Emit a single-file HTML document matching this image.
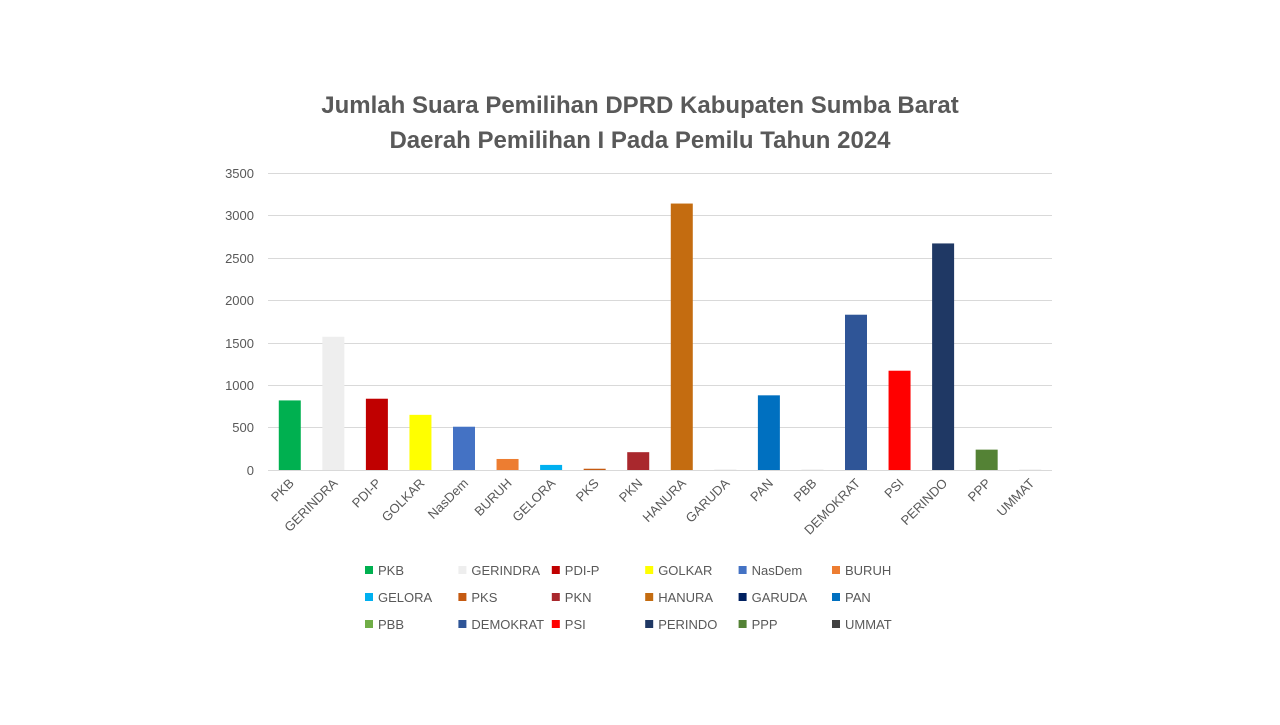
<!DOCTYPE html><html><head><meta charset="utf-8"><style>body{margin:0;background:#fff}</style></head><body>
<svg width="1280" height="720" xmlns="http://www.w3.org/2000/svg" font-family="Liberation Sans, sans-serif">
<rect width="1280" height="720" fill="#fff"/>
<text x="640" y="113" text-anchor="middle" font-size="24" font-weight="bold" fill="#595959">Jumlah Suara Pemilihan DPRD Kabupaten Sumba Barat</text>
<text x="640" y="148" text-anchor="middle" font-size="24" font-weight="bold" fill="#595959">Daerah Pemilihan I Pada Pemilu Tahun 2024</text>
<g stroke="#d9d9d9" stroke-width="1">
<line x1="268" x2="1052" y1="173.5" y2="173.5"/><line x1="268" x2="1052" y1="215.5" y2="215.5"/><line x1="268" x2="1052" y1="258.5" y2="258.5"/><line x1="268" x2="1052" y1="300.5" y2="300.5"/><line x1="268" x2="1052" y1="343.5" y2="343.5"/><line x1="268" x2="1052" y1="385.5" y2="385.5"/><line x1="268" x2="1052" y1="427.5" y2="427.5"/><line x1="268" x2="1052" y1="470.5" y2="470.5"/>
</g>
<g font-size="13" fill="#595959" text-anchor="end">
<text x="254" y="178">3500</text><text x="254" y="220">3000</text><text x="254" y="263">2500</text><text x="254" y="305">2000</text><text x="254" y="348">1500</text><text x="254" y="390">1000</text><text x="254" y="432">500</text><text x="254" y="475">0</text>
</g>
<g id="bars"></g>
<g id="labels" font-size="13" fill="#595959"></g>
<g id="legend" font-size="13" fill="#595959"></g>
<script>
var d=[["PKB",820,"#00b050"],["GERINDRA",1570,"#eeeeee"],["PDI-P",840,"#c00000"],["GOLKAR",650,"#ffff00"],["NasDem",510,"#4472c4"],["BURUH",130,"#ed7d31"],["GELORA",60,"#00b0f0"],["PKS",15,"#c55a11"],["PKN",210,"#a9282d"],["HANURA",3140,"#c46c10"],["GARUDA",8,"#eeeeee"],["PAN",880,"#0070c0"],["PBB",8,"#eeeeee"],["DEMOKRAT",1830,"#2f5597"],["PSI",1170,"#ff0000"],["PERINDO",2670,"#1f3864"],["PPP",240,"#548235"],["UMMAT",8,"#eeeeee"]];
var lc=["#00b050","#eeeeee","#c00000","#ffff00","#4472c4","#ed7d31","#00b0f0","#c55a11","#a9282d","#c46c10","#002060","#0070c0","#70ad47","#2f5597","#ff0000","#1f3864","#548235","#404040"];
var ns="http://www.w3.org/2000/svg",b=document.getElementById("bars"),l=document.getElementById("labels"),g=document.getElementById("legend");
var cw=784/18,k=297/3500;
d.forEach(function(r,i){var cx=268+cw*(i+0.5),h=r[1]*k;
var e=document.createElementNS(ns,"rect");e.setAttribute("x",cx-11);e.setAttribute("y",470-h);e.setAttribute("width",22);e.setAttribute("height",h);e.setAttribute("fill",r[2]);b.appendChild(e);
var t=document.createElementNS(ns,"text");t.setAttribute("text-anchor","end");t.setAttribute("transform","translate("+(cx+5)+",484) rotate(-45)");t.textContent=r[0];l.appendChild(t);
var col=i%6,row=Math.floor(i/6),x=365+col*93.4,y=570+row*27;
var s=document.createElementNS(ns,"rect");s.setAttribute("x",x);s.setAttribute("y",y-4);s.setAttribute("width",8);s.setAttribute("height",8);s.setAttribute("fill",lc[i]);g.appendChild(s);
var tt=document.createElementNS(ns,"text");tt.setAttribute("x",x+13);tt.setAttribute("y",y+5);tt.textContent=r[0];g.appendChild(tt);});
</script>
</svg></body></html>
